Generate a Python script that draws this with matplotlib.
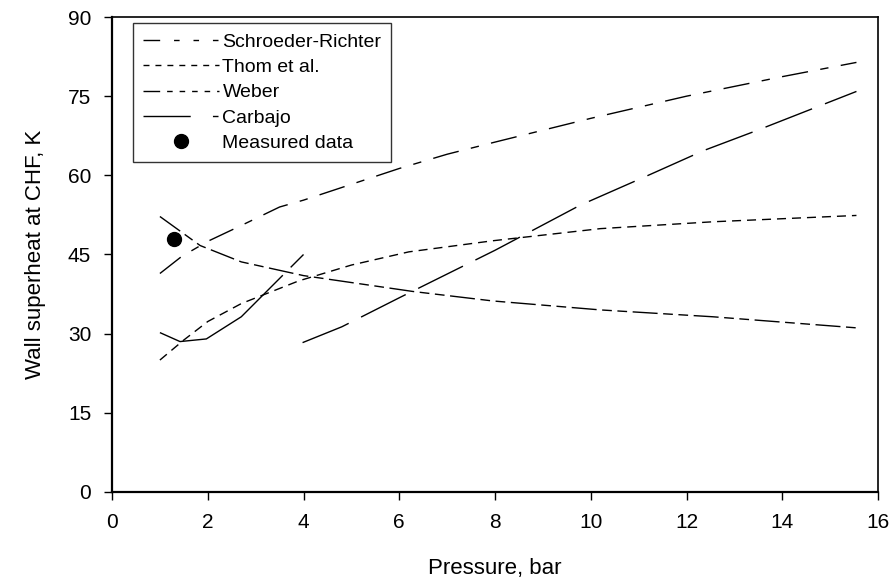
import matplotlib
matplotlib.use("Agg")
import matplotlib.pyplot as plt
from matplotlib.lines import Line2D
import numpy as np

plt.rcParams['font.family'] = ['Liberation Sans', 'DejaVu Sans']

# Data (pressure in bar, wall superheat in K)
sr_p = [1.0, 1.45, 2.0, 2.7, 3.5, 4.0, 5.0, 6.0, 7.0, 8.0, 10.0, 12.0, 14.0, 15.55]
sr_t = [41.4, 44.6, 47.5, 50.5, 54.0, 55.3, 58.3, 61.3, 64.0, 66.3, 70.8, 75.0, 78.7, 81.4]

thom_p = [1.0, 1.5, 2.0, 2.7, 3.9, 5.0, 6.2, 7.95, 10.2, 12.55, 15.55]
thom_t = [25.0, 28.8, 32.3, 35.7, 40.0, 43.0, 45.5, 47.6, 49.9, 51.2, 52.4]

weber_p = [1.0, 1.84, 2.7, 4.0, 6.28, 7.95, 10.2, 12.55, 15.55]
weber_t = [52.2, 46.7, 43.6, 41.0, 38.0, 36.2, 34.5, 33.2, 31.1]

carb1_p = [1.0, 1.42, 1.97, 2.7, 4.0]
carb1_t = [30.2, 28.5, 29.0, 33.2, 45.0]

carb2_p = [3.98, 4.8, 6.0, 8.0, 9.77, 11.2, 12.36, 13.47, 15.55]
carb2_t = [28.3, 31.3, 36.8, 45.8, 54.3, 60.0, 64.7, 68.5, 75.9]

meas_p = [1.3]
meas_t = [48.0]

x_ticks = [0, 2, 4, 6, 8, 10, 12, 14, 16]
y_ticks = [0, 15, 30, 45, 60, 75, 90]

fig = plt.figure(figsize=(8.92, 5.79), dpi=100)
ax = fig.add_axes([0.1256, 0.1503, 0.8587, 0.8203])

lw = 1.0
ax.plot(sr_p, sr_t, color='black', lw=lw, dashes=[19, 9, 6, 9])
ax.plot(thom_p, thom_t, color='black', lw=lw, dashes=[6.5, 4.3])
ax.plot(weber_p, weber_t, color='black', lw=lw, dashes=[18, 4, 7, 4, 7, 4])
ax.plot(carb1_p, carb1_t, color='black', lw=lw, dashes=[107, 8])
ax.plot(carb2_p, carb2_t, color='black', lw=lw, dashes=[36, 10])
ax.plot(meas_p, meas_t, 'o', color='black', markersize=10)

ax.set_xlim(0, 16)
ax.set_ylim(0, 90)
ax.set_xticks(x_ticks)
ax.set_yticks(y_ticks)
ax.tick_params(direction='out', length=6, width=1, labelsize=15, pad=9)
for s in ['left', 'bottom']:
    ax.spines[s].set_linewidth(1.6)
for s in ['top', 'right']:
    ax.spines[s].set_linewidth(1.2)

ax.set_xlabel('Pressure, bar', fontsize=16, labelpad=19)
ax.set_ylabel('Wall superheat at CHF, K', fontsize=16, labelpad=16)

handles = [
    Line2D([], [], color='black', lw=lw, dashes=[12, 10, 4, 10, 4, 10, 4, 10]),
    Line2D([], [], color='black', lw=lw, dashes=[4.3, 4.3]),
    Line2D([], [], color='black', lw=lw, dashes=[12, 5, 4, 5, 4, 5, 4, 5, 4, 5, 4, 50]),
    Line2D([], [], color='black', lw=lw, dashes=[34, 16, 4, 20]),
    Line2D([], [], color='black', marker='o', linestyle='none', markersize=10),
]
labels = ['Schroeder-Richter', 'Thom et al.', 'Weber', 'Carbajo', 'Measured data']
leg = ax.legend(handles, labels, loc='upper left', bbox_to_anchor=(0.0274, 0.987),
                borderaxespad=0, fontsize=14, frameon=True, fancybox=False,
                handlelength=3.9, handletextpad=0.2, labelspacing=0.4,
                borderpad=0.5)
leg.get_frame().set_edgecolor('black')
leg.get_frame().set_linewidth(1.0)

fig.savefig('out.png', dpi=100)
